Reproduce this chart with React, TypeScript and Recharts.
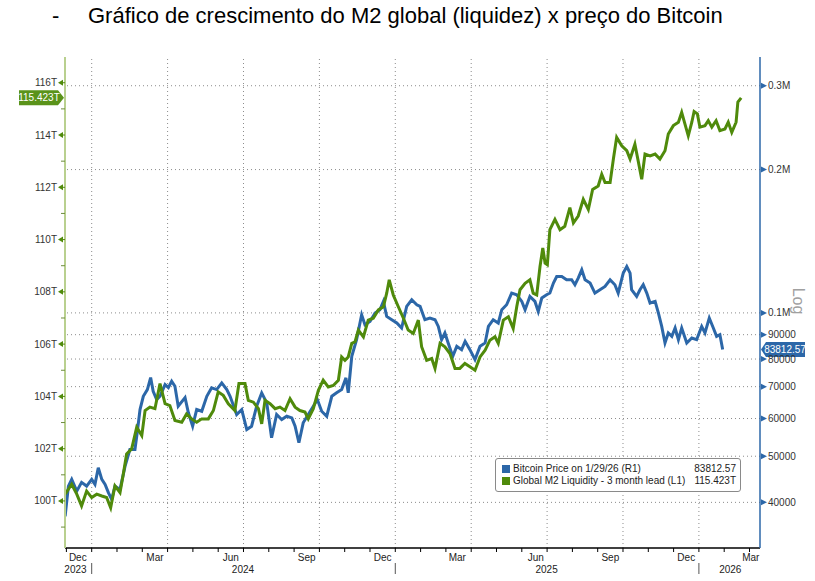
import React from 'react';
import { LineChart, Line, XAxis, YAxis, ReferenceLine, ReferenceDot } from 'recharts';

// months since 1 Dec 2023, Bitcoin price (USD)
const btcSeries: [number, number][] = [
  [-0.05, 37400], [0.08, 43280], [0.21, 44700], [0.41, 42240], [0.6, 44060], [0.8, 43280],
  [1.0, 44700], [1.13, 43630], [1.26, 47300], [1.4, 44700], [1.53, 43630], [1.66, 41920],
  [1.79, 40580], [1.92, 43280], [2.12, 42590], [2.32, 47660], [2.51, 51660], [2.71, 51660],
  [2.8, 56080], [2.91, 62660], [3.04, 66820], [3.2, 69020], [3.33, 73140], [3.43, 68460],
  [3.57, 65760], [3.7, 66820], [3.9, 70700], [4.03, 69690], [4.16, 71840], [4.29, 70120],
  [4.42, 63670], [4.69, 66400], [4.82, 61760], [4.99, 57810], [5.15, 62660], [5.35, 62150],
  [5.55, 66820], [5.74, 69590], [5.94, 69020], [6.14, 71290], [6.34, 69020], [6.47, 66820],
  [6.73, 61170], [6.93, 62660], [7.13, 56900], [7.32, 57810], [7.52, 63670], [7.72, 67930],
  [7.92, 64730], [8.11, 54660], [8.31, 61170], [8.51, 59710], [8.71, 60670], [8.91, 60200],
  [9.04, 57810], [9.19, 53360], [9.36, 58770], [9.56, 61170], [9.76, 63670], [9.92, 65760],
  [10.09, 62150], [10.29, 60670], [10.49, 66820], [10.68, 67930], [10.88, 69020], [11.05, 73030],
  [11.14, 67930], [11.28, 81050], [11.47, 87860], [11.67, 99120], [11.8, 94460], [12.0, 95970],
  [12.2, 99940], [12.39, 101550], [12.53, 105700], [12.66, 98310], [12.86, 96760], [13.06, 95230],
  [13.25, 92960], [13.45, 103180], [13.65, 106570], [13.85, 104030], [13.98, 103180], [14.17, 96760],
  [14.37, 97560], [14.57, 96760], [14.7, 93680], [14.83, 87860], [14.96, 90750], [15.09, 86470],
  [15.27, 81050], [15.43, 85070], [15.62, 83720], [15.76, 87140], [15.95, 83720], [16.15, 79770],
  [16.35, 85070], [16.55, 86470], [16.68, 93680], [16.87, 96760], [17.07, 95230], [17.21, 101550],
  [17.4, 104030], [17.6, 110070], [17.8, 109180], [18.0, 105700], [18.13, 101550], [18.32, 108280],
  [18.52, 105700], [18.65, 100720], [18.79, 107450], [18.98, 109180], [19.11, 110070], [19.25, 115510],
  [19.38, 119260], [19.58, 119260], [19.77, 117370], [19.97, 117370], [20.1, 114570], [20.23, 118340],
  [20.37, 123170], [20.5, 117370], [20.7, 115510], [20.89, 110070], [21.09, 111840], [21.29, 113640],
  [21.49, 117370], [21.68, 114570], [21.81, 110070], [22.01, 121230], [22.15, 125150], [22.28, 121230],
  [22.34, 111840], [22.54, 108280], [22.67, 111840], [22.8, 114570], [22.94, 110070], [23.07, 104880],
  [23.27, 105700], [23.4, 99940], [23.53, 93680], [23.66, 86470], [23.79, 90750], [23.93, 89270],
  [24.06, 92960], [24.19, 87860], [24.32, 92960], [24.52, 86470], [24.72, 88580], [24.91, 87860],
  [25.11, 93680], [25.24, 90750], [25.41, 97560], [25.57, 92960], [25.7, 89270], [25.83, 90000],
  [25.94, 83812.57],
];

// months since 1 Dec 2023, Global M2 liquidity 3 month lead (trillions)
const m2Series: [number, number][] = [
  [-0.05, 100.26], [0.21, 100.64], [0.41, 100.26], [0.6, 99.81], [0.8, 100.38], [1.0, 100.13],
  [1.2, 100.26], [1.4, 100.19], [1.59, 100.13], [1.75, 99.74], [1.92, 100.58], [2.12, 100.32],
  [2.25, 101.03], [2.38, 101.8], [2.58, 101.99], [2.78, 102.82], [2.98, 102.5], [3.11, 103.46],
  [3.3, 103.59], [3.5, 103.53], [3.7, 104.49], [3.9, 103.72], [4.09, 103.65], [4.29, 103.08],
  [4.56, 103.01], [4.75, 103.33], [4.95, 103.14], [5.15, 103.01], [5.35, 103.14], [5.61, 103.14],
  [5.81, 103.46], [6.0, 104.17], [6.2, 104.04], [6.4, 103.72], [6.66, 103.46], [6.82, 104.49],
  [7.06, 104.49], [7.19, 103.85], [7.39, 103.78], [7.59, 103.53], [7.72, 102.95], [7.85, 103.85],
  [8.05, 103.72], [8.25, 103.53], [8.44, 103.59], [8.64, 103.46], [8.84, 103.91], [9.04, 103.59],
  [9.23, 103.46], [9.43, 103.4], [9.56, 103.14], [9.76, 103.53], [9.96, 104.23], [10.15, 104.62],
  [10.35, 104.36], [10.55, 104.42], [10.75, 104.62], [10.88, 105.51], [11.01, 105.38], [11.14, 105.51],
  [11.28, 106.03], [11.41, 106.09], [11.54, 106.54], [11.74, 106.28], [11.93, 106.92], [12.13, 106.99],
  [12.33, 107.31], [12.53, 107.43], [12.66, 107.95], [12.76, 108.46], [12.92, 107.88], [13.12, 107.43],
  [13.32, 106.99], [13.51, 106.54], [13.71, 106.41], [13.91, 106.92], [14.04, 105.9], [14.24, 105.38],
  [14.44, 105.45], [14.57, 105.07], [14.77, 106.03], [14.96, 105.9], [15.16, 105.64], [15.36, 105.07],
  [15.55, 105.07], [15.75, 105.26], [15.95, 105.13], [16.15, 105.0], [16.35, 105.51], [16.55, 105.77],
  [16.74, 106.15], [16.94, 106.28], [17.07, 106.03], [17.27, 106.92], [17.47, 107.05], [17.66, 106.6],
  [17.8, 107.43], [17.93, 108.08], [18.13, 108.33], [18.32, 108.46], [18.45, 107.95], [18.59, 107.88],
  [18.72, 108.97], [18.83, 109.68], [18.92, 109.1], [19.01, 109.04], [19.11, 110.38], [19.31, 110.77],
  [19.51, 110.38], [19.7, 110.51], [19.9, 111.22], [20.04, 110.64], [20.23, 110.9], [20.43, 111.54],
  [20.63, 111.15], [20.8, 111.92], [21.02, 112.05], [21.16, 112.5], [21.29, 112.18], [21.49, 112.18],
  [21.62, 113.08], [21.75, 113.91], [21.95, 113.59], [22.15, 113.4], [22.28, 113.08], [22.47, 113.65],
  [22.6, 113.01], [22.74, 112.31], [22.87, 113.27], [23.07, 113.2], [23.27, 113.27], [23.46, 113.08],
  [23.66, 113.4], [23.79, 114.04], [23.99, 114.36], [24.19, 114.49], [24.32, 114.87], [24.45, 114.42],
  [24.58, 113.97], [24.72, 114.49], [24.81, 114.9], [24.94, 114.81], [25.04, 114.3], [25.24, 114.36],
  [25.37, 114.55], [25.51, 114.3], [25.68, 114.55], [25.83, 114.17], [26.03, 114.23], [26.16, 114.49],
  [26.3, 114.1], [26.47, 114.49], [26.54, 115.26], [26.67, 115.423],
];

const btcLast = 83812.57;
const m2Last = 115.423;

const m2Ticks = [99, 100, 101, 102, 103, 104, 105, 106, 107, 108, 109, 110, 111, 112, 113, 114, 115, 116];
const btcTicks = [40000, 50000, 60000, 70000, 80000, 90000, 100000, 200000, 300000];
const btcTickLabels = ['40000', '50000', '60000', '70000', '80000', '90000', '0.1M', '0.2M', '0.3M'];

const monthTicks = Array.from({ length: 28 }, (_, i) => i);
const quarterGrid = [1, 4, 7, 10, 13, 16, 19, 22, 25];
const monthLabelT = [0.45, 3.5, 6.5, 9.5, 12.5, 15.45, 18.55, 21.5, 24.5, 27.05];
const monthLabels = ['Dec', 'Mar', 'Jun', 'Sep', 'Dec', 'Mar', 'Jun', 'Sep', 'Dec', 'Mar'];
const yearLabelT = [0.36, 6.98, 18.98, 26.24];
const yearLabels = ['2023', '2024', '2025', '2026'];
const yearStartT = [1, 13, 25];

const xDomain: [number, number] = [-0.055, 27.415];
const m2Domain: [number, number] = [98.2, 116.985];
const btcDomain: [number, number] = [32080, 344700];

const BLUE = '#2c67a8';
const GREEN = '#4f8a0b';
const FONT = "'Liberation Sans Narrow', 'Liberation Sans', Arial, sans-serif";

const btcData = btcSeries.map(([t, v]) => ({ t, btc: v }));
const m2Data = m2Series.map(([t, v]) => ({ t, m2: v }));
const xTicks = [...monthTicks, ...monthLabelT, ...yearLabelT].sort((a, b) => a - b);

const M2Tick = (props: any) => {
  const { x, y, payload } = props;
  const v = payload.value;
  if (v % 2 !== 0) {
    return <line x1={x - 4} x2={x} y1={y} y2={y} stroke="#6d8c3c" strokeWidth={1} />;
  }
  return (
    <g>
      <polygon points={`${x - 7},${y} ${x - 2},${y - 3} ${x - 2},${y + 3}`} fill={GREEN} />
      <line x1={x - 3} x2={x} y1={y} y2={y} stroke={GREEN} />
      <text x={x - 8} y={y} dy="0.35em" textAnchor="end" fontSize={10} fill="#333" fontFamily={FONT}>
        {v}T
      </text>
    </g>
  );
};

const BtcTick = (props: any) => {
  const { x, y, payload } = props;
  const label = btcTickLabels[btcTicks.indexOf(payload.value)];
  return (
    <g>
      <polygon points={`${x + 7},${y} ${x + 1},${y - 3} ${x + 1},${y + 3}`} fill={BLUE} />
      <text x={x + 8} y={y} dy="0.35em" textAnchor="start" fontSize={10} fill="#333" fontFamily={FONT}>
        {label}
      </text>
    </g>
  );
};

// one bottom axis: month tick marks, month names, year names and year separators
const TimeTick = (props: any) => {
  const { x, y, payload } = props;
  const v = payload.value;
  const mi = monthLabelT.indexOf(v);
  if (mi >= 0) {
    return (
      <text x={x} y={y + 12.5} textAnchor="middle" fontSize={10} fill="#222" fontFamily={FONT}>
        {monthLabels[mi]}
      </text>
    );
  }
  const yi = yearLabelT.indexOf(v);
  if (yi >= 0) {
    return (
      <text x={x} y={y + 25} textAnchor="middle" fontSize={10} fill="#222" fontFamily={FONT}>
        {yearLabels[yi]}
      </text>
    );
  }
  return (
    <g>
      <line x1={x} x2={x} y1={y} y2={y + 4} stroke="#000" strokeWidth={1} />
      {yearStartT.includes(v) && <line x1={x} x2={x} y1={y + 15} y2={y + 26} stroke="#555" strokeWidth={1} />}
    </g>
  );
};

const M2Badge = (props: any) => {
  const { cx, cy } = props;
  return (
    <g>
      <polygon
        points={`${cx - 46},${cy - 7.5} ${cx - 7},${cy - 7.5} ${cx - 1},${cy} ${cx - 7},${cy + 7.5} ${cx - 46},${cy + 7.5}`}
        fill="#5a931a"
      />
      <text x={cx - 26} y={cy} dy="0.35em" textAnchor="middle" fontSize={10} fill="#fff" fontFamily={FONT}>
        {m2Last}T
      </text>
    </g>
  );
};

const BtcBadge = (props: any) => {
  const { cx, cy } = props;
  return (
    <g>
      <polygon
        points={`${cx + 1},${cy} ${cx + 6},${cy - 7.5} ${cx + 45},${cy - 7.5} ${cx + 45},${cy + 7.5} ${cx + 6},${cy + 7.5}`}
        fill={BLUE}
      />
      <text x={cx + 25} y={cy} dy="0.35em" textAnchor="middle" fontSize={10} fill="#fff" fontFamily={FONT}>
        {btcLast}
      </text>
    </g>
  );
};

const legendItems = [
  { color: BLUE, label: 'Bitcoin Price on 1/29/26 (R1)', value: String(btcLast) },
  { color: GREEN, label: 'Global M2 Liquidity - 3 month lead (L1)', value: `${m2Last}T` },
];

export default function App() {
  return (
    <div style={{ position: 'absolute', left: 0, top: 0, width: 815, height: 581, background: '#fff', overflow: 'hidden' }}>
      <div style={{ position: 'absolute', left: 52, top: 3, fontFamily: "'Liberation Sans', Arial, sans-serif", fontSize: 22, lineHeight: '26px', color: '#000' }}>
        -
      </div>
      <div style={{ position: 'absolute', left: 88, top: 3, fontFamily: "'Liberation Sans', Arial, sans-serif", fontSize: 22, lineHeight: '26px', color: '#000', whiteSpace: 'nowrap' }}>
        Gráfico de crescimento do M2 global (liquidez) x preço do Bitcoin
      </div>

      <div style={{ position: 'absolute', left: 0, top: 0 }}>
        <LineChart width={815} height={581} margin={{ top: 57, right: 0, bottom: 0, left: 0 }}>
          <XAxis
            xAxisId="t"
            type="number"
            dataKey="t"
            domain={xDomain}
            allowDataOverflow
            ticks={xTicks}
            interval={0}
            tick={TimeTick}
            tickLine={false}
            tickSize={0}
            tickMargin={0}
            axisLine={{ stroke: '#000', strokeWidth: 1.5 }}
            height={33}
          />
          <YAxis
            yAxisId="m2"
            orientation="left"
            width={65}
            domain={m2Domain}
            allowDataOverflow
            ticks={m2Ticks}
            interval={0}
            tick={M2Tick}
            tickLine={false}
            tickSize={0}
            tickMargin={0}
            axisLine={{ stroke: '#b9d08f', strokeWidth: 2 }}
          />
          <YAxis
            yAxisId="btc"
            orientation="right"
            width={55}
            scale="log"
            domain={btcDomain}
            allowDataOverflow
            ticks={btcTicks}
            interval={0}
            tick={BtcTick}
            tickLine={false}
            tickSize={0}
            tickMargin={0}
            axisLine={{ stroke: BLUE, strokeWidth: 1.5 }}
          />
          {quarterGrid.map((q) => (
            <ReferenceLine key={`v${q}`} xAxisId="t" yAxisId="btc" x={q} stroke="#8c8c8c" strokeDasharray="1 3" />
          ))}
          {btcTicks.map((v) => (
            <ReferenceLine key={`h${v}`} xAxisId="t" yAxisId="btc" y={v} stroke="#8c8c8c" strokeDasharray="1 3" />
          ))}
          <Line
            xAxisId="t"
            yAxisId="btc"
            data={btcData}
            dataKey="btc"
            type="linear"
            stroke={BLUE}
            strokeWidth={3}
            dot={false}
            isAnimationActive={false}
          />
          <Line
            xAxisId="t"
            yAxisId="m2"
            data={m2Data}
            dataKey="m2"
            type="linear"
            stroke={GREEN}
            strokeWidth={3}
            dot={false}
            isAnimationActive={false}
          />
          <ReferenceDot xAxisId="t" yAxisId="m2" x={xDomain[0]} y={m2Last} ifOverflow="visible" shape={M2Badge} />
          <ReferenceDot xAxisId="t" yAxisId="btc" x={xDomain[1]} y={btcLast} ifOverflow="visible" shape={BtcBadge} />
        </LineChart>
      </div>

      <svg width={815} height={581} style={{ position: 'absolute', left: 0, top: 0, pointerEvents: 'none' }}>
        <text
          x={798}
          y={301}
          transform="rotate(90 798 301)"
          textAnchor="middle"
          dominantBaseline="central"
          fontSize={16}
          fill="#a0a0a0"
          fontFamily="'Liberation Sans', Arial, sans-serif"
        >
          Log
        </text>
      </svg>

      <div
        style={{
          position: 'absolute',
          left: 495,
          top: 458,
          width: 246,
          height: 34,
          border: '1px solid #8a8a8a',
          borderRadius: 3,
          background: '#fff',
          fontFamily: FONT,
          fontSize: 10,
          color: '#222',
          padding: '4px 4px 0 6px',
          boxSizing: 'border-box',
        }}
      >
        {legendItems.map((it) => (
          <div key={it.label} style={{ display: 'flex', alignItems: 'center', height: 12, lineHeight: '12px' }}>
            <span style={{ width: 8, height: 8, background: it.color, marginRight: 3, flex: 'none' }} />
            <span style={{ flex: 1, whiteSpace: 'nowrap' }}>{it.label}</span>
            <span style={{ whiteSpace: 'nowrap', marginLeft: 4 }}>{it.value}</span>
          </div>
        ))}
      </div>
    </div>
  );
}
